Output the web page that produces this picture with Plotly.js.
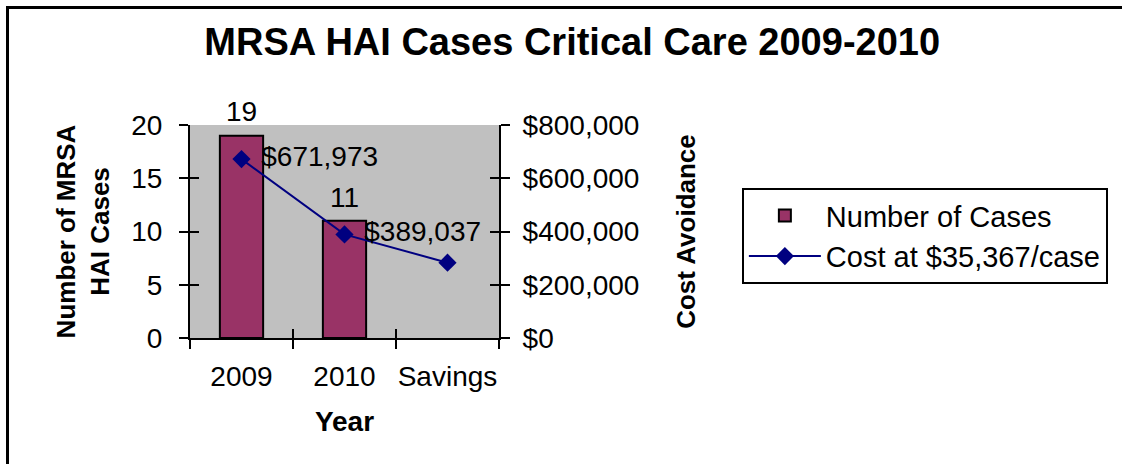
<!DOCTYPE html>
<html>
<head>
<meta charset="utf-8">
<script src="https://cdn.plot.ly/plotly-3.0.1.min.js"></script>
<style>
  html, body { margin: 0; padding: 0; background: #ffffff; }
  #chart { position: absolute; left: 0; top: 0; width: 1122px; height: 464px; }
  #frame { position: absolute; left: 6px; top: 6px; width: 1130px; height: 470px;
           border-left: 3px solid #000; border-top: 3px solid #000; pointer-events: none; }
</style>
</head>
<body>
<div id="chart"></div>
<div id="frame"></div>
<script>
// ---- data ----
const years = ['2009', '2010', 'Savings'];
const cases = [19, 11, null];
const caseLabels = ['19', '11', ''];
const cost = [671973, 389037, 282936];
const costLabels = ['$671,973', '$389,037', ''];
const chartTitle = 'MRSA HAI Cases Critical Care 2009-2010';
const barName = 'Number of Cases';
const lineName = 'Cost at $35,367/case';

const FONT = 'Liberation Sans, Arial, sans-serif';
const tickFont = { family: FONT, size: 28, color: '#000' };

const traces = [
  {
    type: 'bar', x: years, y: cases, name: barName,
    marker: { color: '#993366', line: { color: '#000', width: 2 } },
    hoverinfo: 'skip'
  },
  {
    type: 'scatter', mode: 'markers+text', x: years, y: cases,
    text: caseLabels, textposition: 'top center',
    textfont: tickFont, marker: { size: 10, opacity: 0 },
    showlegend: false, hoverinfo: 'skip', cliponaxis: false
  },
  {
    type: 'scatter', mode: 'lines+markers', x: years, y: cost, yaxis: 'y2', name: lineName,
    line: { color: '#000080', width: 2 },
    marker: { symbol: 'diamond', size: 14, color: '#000080' },
    hoverinfo: 'skip', cliponaxis: false
  },
  {
    type: 'scatter', mode: 'markers+text', x: years, y: cost, yaxis: 'y2',
    text: costLabels, textposition: 'middle right', textfont: tickFont,
    marker: { size: 30, opacity: 0 },
    showlegend: false, hoverinfo: 'skip', cliponaxis: false
  },
  // carriers for the inner half of the crossing tick marks
  { type: 'scatter', mode: 'markers', x: years, y: [null, null, null], xaxis: 'x2', yaxis: 'y3',
    showlegend: false, hoverinfo: 'skip' },
  { type: 'scatter', mode: 'markers', x: years, y: [null, null, null], xaxis: 'x2', yaxis: 'y4',
    showlegend: false, hoverinfo: 'skip' }
];

const layout = {
  width: 1122, height: 464,
  margin: { l: 190, r: 623, t: 125, b: 126, pad: 0 },
  paper_bgcolor: '#ffffff',
  plot_bgcolor: '#c0c0c0',
  font: { family: FONT, color: '#000' },
  title: {
    text: '<b>' + chartTitle + '</b>',
    font: { family: FONT, size: 38, color: '#000' },
    xref: 'container', x: 0.51, xanchor: 'center',
    yref: 'container', y: 0.91, yanchor: 'middle'
  },
  bargap: 0.58,
  showlegend: true,
  legend: {
    x: 1.786, xanchor: 'left', y: 0.704, yanchor: 'top',
    bgcolor: '#ffffff', bordercolor: '#000', borderwidth: 2,
    font: { family: FONT, size: 29, color: '#000' },
    itemwidth: 72, traceorder: 'normal'
  },
  xaxis: {
    type: 'category', categoryorder: 'array', categoryarray: years,
    range: [-0.5, 2.5], fixedrange: true,
    showline: true, linecolor: '#000', linewidth: 2,
    ticks: 'outside', ticklen: 9, tickwidth: 2, tickcolor: '#000',
    tickson: 'boundaries', ticklabelstandoff: 12, tickangle: 0,
    tickfont: tickFont, showgrid: false, zeroline: false,
    title: { text: '<b>Year</b>', font: { family: FONT, size: 28, color: '#000' }, standoff: 21 }
  },
  xaxis2: {
    type: 'category', categoryorder: 'array', categoryarray: years,
    range: [-0.5, 2.5], overlaying: 'x', anchor: 'y3',
    ticks: 'inside', ticklen: 9, tickwidth: 2, tickcolor: '#000',
    tickson: 'boundaries', showticklabels: false, showgrid: false, zeroline: false, showline: false
  },
  yaxis: {
    range: [0, 20], dtick: 5, tick0: 0,
    showline: true, linecolor: '#000', linewidth: 2,
    ticks: 'outside', ticklen: 9, tickwidth: 2, tickcolor: '#000',
    ticklabelstandoff: 11, tickfont: tickFont,
    showgrid: false, zeroline: false,
    title: { text: '<b>Number of MRSA<br>HAI Cases</b>', font: { family: FONT, size: 26, color: '#000' }, standoff: 14 }
  },
  yaxis2: {
    range: [0, 800000], dtick: 200000, tick0: 0,
    overlaying: 'y', side: 'right', anchor: 'x',
    showline: true, linecolor: '#000', linewidth: 2,
    ticks: 'outside', ticklen: 9, tickwidth: 2, tickcolor: '#000',
    tickprefix: '$', tickformat: ',d', separatethousands: true,
    ticklabelstandoff: 7, tickfont: tickFont,
    showgrid: false, zeroline: false,
    title: { text: '<b>Cost Avoidance</b>', font: { family: FONT, size: 26, color: '#000' }, standoff: 38 }
  },
  yaxis3: {
    range: [0, 20], dtick: 5, tick0: 0, overlaying: 'y', side: 'left', anchor: 'x2',
    ticks: 'inside', ticklen: 9, tickwidth: 2, tickcolor: '#000',
    showticklabels: false, showgrid: false, zeroline: false, showline: false
  },
  yaxis4: {
    range: [0, 800000], dtick: 200000, tick0: 0, overlaying: 'y', side: 'right', anchor: 'x2',
    ticks: 'inside', ticklen: 9, tickwidth: 2, tickcolor: '#000',
    showticklabels: false, showgrid: false, zeroline: false, showline: false
  }
};

Plotly.newPlot('chart', traces, layout, { staticPlot: true, displayModeBar: false });
</script>
</body>
</html>
